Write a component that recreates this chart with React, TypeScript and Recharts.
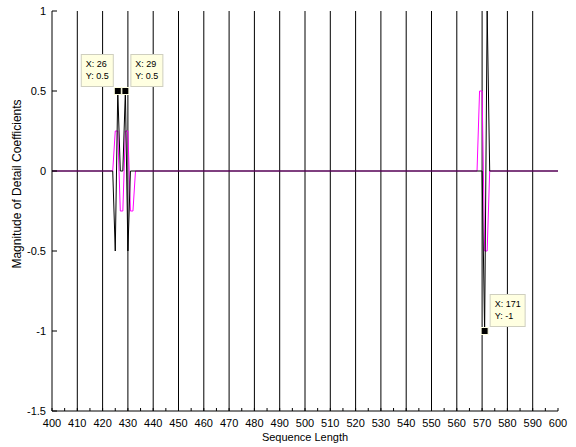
import { LineChart, Line, XAxis, YAxis, ReferenceLine, ReferenceDot, Label } from 'recharts'

// sample index (0..200) where each series changes; flat zero between them
const blackX = [0, 24, 25, 26, 27, 28, 29, 30, 31, 170, 171, 172, 173, 200]
const blackY = [0, 0, -0.5, 0.5, 0, 0, 0.5, -0.5, 0, 0, -1, 1, 0, 0]

const magentaX = [0, 24, 25, 26, 27, 28, 29, 30, 31, 32, 33, 168, 169, 170, 171, 172, 173, 200]
const magentaY = [0, 0, 0.25, 0.25, -0.25, -0.25, 0.25, 0.25, -0.25, -0.25, 0, 0, 0.5, 0.5, -0.5, -0.5, 0, 0]

// tick positions on the index axis and the sequence labels printed under them
const xMajor = [0, 10, 20, 30, 40, 50, 60, 70, 80, 90, 100, 110, 120, 130, 140, 150, 160, 170, 180, 190, 200]
const xLabels = ['400', '410', '420', '430', '440', '450', '460', '470', '480', '490', '500',
  '510', '520', '530', '540', '550', '560', '570', '580', '590', '600']
const xMinor = [5, 15, 25, 35, 45, 55, 65, 75, 85, 95, 105, 115, 125, 135, 145, 155, 165, 175, 185, 195]
const yTicks = [-1.5, -1, -0.5, 0, 0.5, 1]

// data cursors
const tipX = [26, 29, 171]
const tipY = [0.5, 0.5, -1]
const tipSide = ['left', 'right', 'right']

const FONT = '"Liberation Sans", Arial, sans-serif'

const blackData = blackX.map((x, i) => ({ x, y: blackY[i] }))
const magentaData = magentaX.map((x, i) => ({ x, y: magentaY[i] }))
const allXTicks = [...xMajor, ...xMinor].sort((a, b) => a - b)

let measureCtx: CanvasRenderingContext2D | null = null
function textWidth(s: string) {
  if (!measureCtx) measureCtx = document.createElement('canvas').getContext('2d')
  if (!measureCtx) return s.length * 5
  measureCtx.font = `9px ${FONT}`
  return measureCtx.measureText(s).width
}

function DataTip(props: any) {
  const { cx, cy, px, py, side } = props
  const l1 = `X: ${px}`
  const l2 = `Y: ${py}`
  const w = Math.round(Math.max(textWidth(l1), textWidth(l2)) + 9)
  const h = 32
  const bx = side === 'left' ? cx - 5 - w : cx + 5
  const by = cy - 5 - h
  return (
    <g>
      <rect x={bx + 0.5} y={by + 0.5} width={w} height={h} fill="#ffffe1" stroke="#cfcfbf" />
      <text x={bx + 5} y={by + 13} fontSize={9} fontFamily={FONT} fill="#000">{l1}</text>
      <text x={bx + 5} y={by + 25} fontSize={9} fontFamily={FONT} fill="#000">{l2}</text>
      <rect x={cx - 3.5} y={cy - 3.5} width={7} height={7} fill="#000" stroke="#ffffe1" strokeWidth={1} />
    </g>
  )
}

export default function App() {
  const labelMap: Record<number, string> = {}
  xMajor.forEach((v, i) => { labelMap[v] = xLabels[i] })

  return (
    <div style={{ position: 'absolute', left: 0, top: 0, width: 576, height: 447, background: '#fff' }}>
      <LineChart width={576} height={447} data={blackData} margin={{ top: 11, right: 18, left: 0, bottom: 0 }}>
        <XAxis
          dataKey="x"
          type="number"
          domain={[0, 200]}
          ticks={allXTicks}
          interval={0}
          tickFormatter={(v) => labelMap[v] ?? ''}
          tickSize={-3}
          tickMargin={11}
          height={36}
          axisLine={{ stroke: '#000' }}
          tickLine={{ stroke: '#000' }}
          tick={{ fill: '#000', fontSize: 11, fontFamily: FONT }}
          allowDataOverflow
        >
          <Label
            value="Sequence Length"
            position="insideBottom"
            offset={6}
            style={{ fill: '#000', fontSize: 11, fontFamily: FONT }}
          />
        </XAxis>
        <XAxis
          xAxisId="top"
          orientation="top"
          type="number"
          domain={[0, 200]}
          ticks={allXTicks}
          interval={0}
          tickSize={-3}
          tick={false}
          height={0}
          axisLine={{ stroke: '#000' }}
          tickLine={{ stroke: '#000' }}
        />
        <YAxis
          type="number"
          domain={[-1.5, 1]}
          ticks={yTicks}
          interval={0}
          tickSize={-5}
          tickMargin={11}
          width={52}
          axisLine={{ stroke: '#000' }}
          tickLine={{ stroke: '#000' }}
          tick={{ fill: '#000', fontSize: 11, fontFamily: FONT }}
          allowDataOverflow
        >
          <Label
            content={({ viewBox }: any) => {
              const tx = viewBox.x + 21
              const ty = viewBox.y + viewBox.height / 2 - 27
              return (
                <text
                  x={tx}
                  y={ty}
                  transform={`rotate(-90, ${tx}, ${ty})`}
                  textAnchor="middle"
                  fontSize={12}
                  fontFamily={FONT}
                  fill="#000"
                >
                  Magnitude of Detail Coefficients
                </text>
              )
            }}
          />
        </YAxis>
        <YAxis
          yAxisId="right"
          orientation="right"
          type="number"
          domain={[-1.5, 1]}
          ticks={yTicks}
          interval={0}
          tickSize={-5}
          tick={false}
          width={0}
          axisLine={{ stroke: '#000' }}
          tickLine={{ stroke: '#000' }}
        />

        {xMajor.slice(1, -1).map((v) => (
          <ReferenceLine key={v} x={v} stroke="#000" strokeWidth={1} />
        ))}

        <Line
          data={magentaData}
          dataKey="y"
          type="linear"
          stroke="#ff00ff"
          strokeWidth={1}
          dot={false}
          activeDot={false}
          isAnimationActive={false}
        />
        <Line
          data={blackData}
          dataKey="y"
          type="linear"
          stroke="#000"
          strokeWidth={1}
          dot={false}
          activeDot={false}
          isAnimationActive={false}
        />

        {tipX.map((x, i) => (
          <ReferenceDot
            key={x}
            x={x}
            y={tipY[i]}
            isFront
            shape={(p: any) => <DataTip {...p} px={x} py={tipY[i]} side={tipSide[i]} />}
          />
        ))}
      </LineChart>
    </div>
  )
}
